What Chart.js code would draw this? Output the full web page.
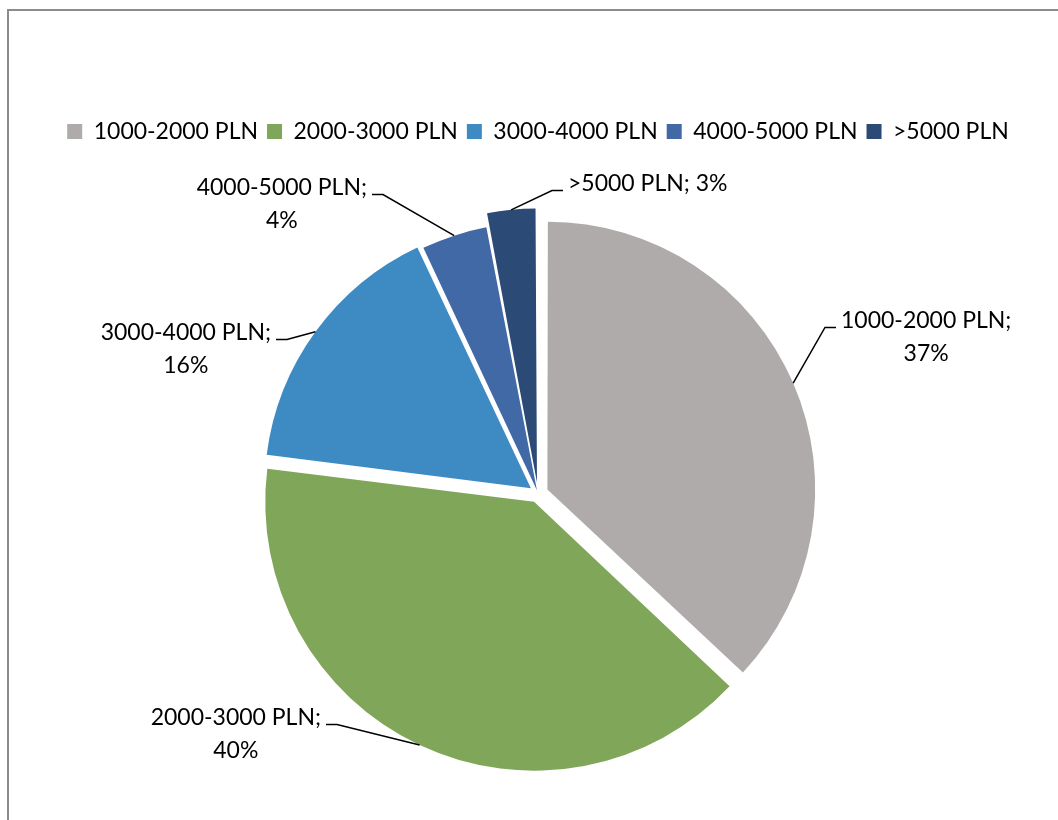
<!DOCTYPE html>
<html>
<head>
<meta charset="utf-8">
<script src="https://cdn.jsdelivr.net/npm/chart.js@4"></script>
<style>
  html, body { margin: 0; padding: 0; background: #fff; overflow: hidden; }
  #frame { position: absolute; left: 7px; top: 9px; width: 1200px; height: 1200px; border: 2px solid #8c8c8c; }
  #wrap { position: absolute; left: 0; top: 0; width: 1058px; height: 1000px; }
</style>
</head>
<body>
<div id="frame"></div>
<div id="wrap"><canvas id="pie"></canvas></div>
<script>
const categories = ['1000-2000 PLN', '2000-3000 PLN', '3000-4000 PLN', '4000-5000 PLN', '>5000 PLN'];
const shares = [37, 40, 16, 4, 3];
const sliceColors = ['#afabaa', '#80a65a', '#3e8bc4', '#4169a6', '#2c4a76'];
const explode = [41, 37, 35, 14, 44];
// leader elbow relative to the pie centre, and the side the text sits on
const labelElbows = [[287, -166, 1], [-201, 231, -1], [-251, -154, -1], [-155, -299, -1], [14, -303, 1]];
const wrapLabel = [true, true, true, true, false];

const sliceLabels = {
  id: 'sliceLabels',
  afterDatasetsDraw(chart) {
    const ctx = chart.ctx;
    const arcs = chart.getDatasetMeta(0).data;
    ctx.save();
    ctx.font = '23px Lato';
    ctx.fillStyle = '#000';
    ctx.strokeStyle = '#000';
    ctx.lineWidth = 1.5;
    ctx.textBaseline = 'middle';
    arcs.forEach((arc, i) => {
      const p = arc.getProps(['x', 'y', 'startAngle', 'endAngle', 'outerRadius', 'circumference'], true);
      const mid = (p.startAngle + p.endAngle) / 2;
      // same shift the arc element applies for its offset
      const shift = (arc.options.offset / 4) * (2 - Math.sin(Math.min(Math.PI, p.circumference)));
      const ax = p.x + Math.cos(mid) * (shift + p.outerRadius);
      const ay = p.y + Math.sin(mid) * (shift + p.outerRadius);
      const [ex, ey, side] = labelElbows[i];
      const elbowX = p.x + ex, elbowY = p.y + ey;
      const endX = elbowX + side * 11;
      ctx.beginPath();
      ctx.moveTo(ax, ay);
      ctx.lineTo(elbowX, elbowY);
      ctx.lineTo(endX, elbowY);
      ctx.stroke();
      const lines = wrapLabel[i]
        ? [categories[i] + ';', shares[i] + '%']
        : [categories[i] + '; ' + shares[i] + '%'];
      if (lines.length === 1) {
        ctx.textAlign = side > 0 ? 'left' : 'right';
        ctx.fillText(lines[0], endX + side * 5, elbowY - 7);
      } else {
        const w = Math.max(...lines.map(t => ctx.measureText(t).width));
        const tx = endX + side * (5 + w / 2);
        ctx.textAlign = 'center';
        lines.forEach((t, k) => ctx.fillText(t, tx, elbowY - 7 + k * 33));
      }
    });
    ctx.restore();
  }
};

new Chart(document.getElementById('pie'), {
  type: 'pie',
  data: {
    labels: categories,
    datasets: [{
      data: shares,
      backgroundColor: sliceColors,
      borderWidth: 0,
      offset: explode
    }]
  },
  options: {
    responsive: true,
    maintainAspectRatio: false,
    animation: false,
    radius: 265,
    layout: { padding: { top: 111, bottom: 166, left: 18, right: 0 } },
    plugins: {
      tooltip: { enabled: false },
      legend: {
        position: 'top',
        labels: {
          boxWidth: 15,
          boxHeight: 15,
          padding: 9,
          color: '#000',
          font: { family: 'Lato', size: 23 }
        }
      }
    }
  },
  plugins: [sliceLabels]
});
</script>
</body>
</html>
